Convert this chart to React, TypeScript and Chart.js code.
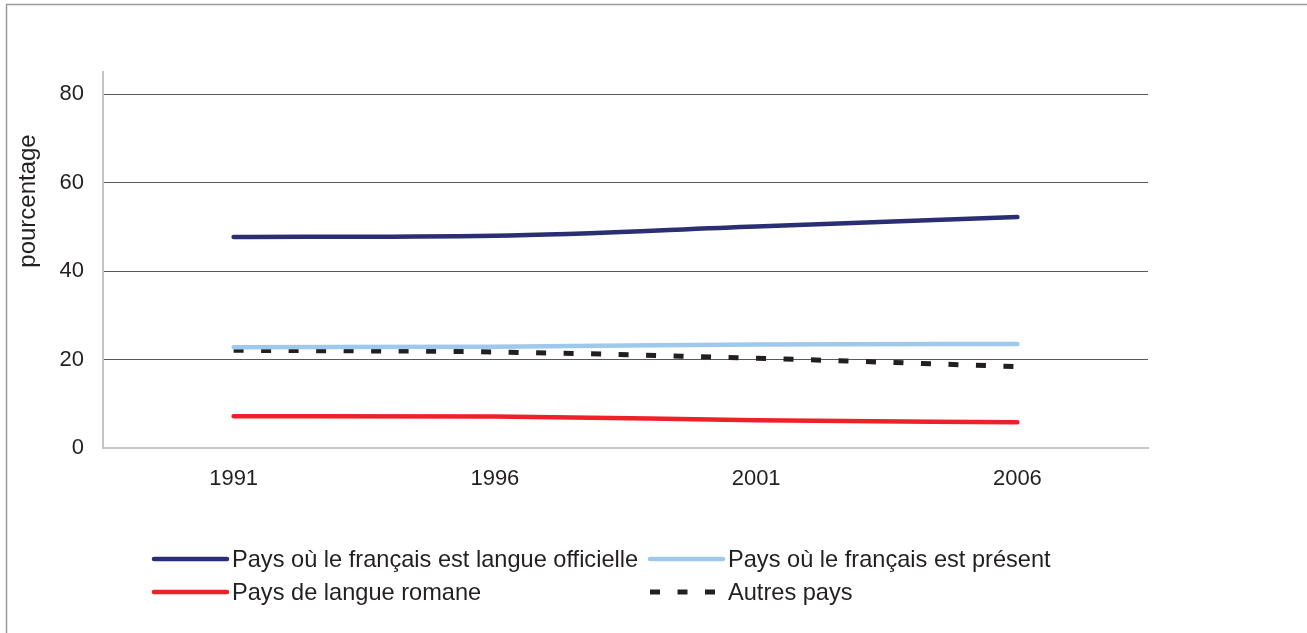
import React, { useEffect, useRef } from "react";
import { Chart, registerables } from "chart.js";

Chart.register(...registerables);

const years = ["1991", "1996", "2001", "2006"];
const officielle = [47.7, 48.0, 50.1, 52.2];
const present = [22.8, 22.9, 23.4, 23.5];
const romane = [7.2, 7.1, 6.3, 5.8];
const autres = [22.1, 21.7, 20.3, 18.4];
const yTicks = [0, 20, 40, 60, 80];
const seriesNames = [
  "Pays où le français est langue officielle",
  "Pays où le français est présent",
  "Pays de langue romane",
  "Autres pays",
];
const yTitle = "pourcentage";

const FONT = "'Liberation Sans', Arial, sans-serif";
const TEXT = "#231f20";

const framePlugin = {
  id: "frameAndLegend",
  afterDraw(chart: any) {
    const ctx = chart.ctx as CanvasRenderingContext2D;
    ctx.save();
    // outer frame (top and left)
    ctx.strokeStyle = "#9a9a9a";
    ctx.lineWidth = 1.5;
    ctx.beginPath();
    ctx.moveTo(6.5, 640);
    ctx.lineTo(6.5, 4.5);
    ctx.lineTo(1320, 4.5);
    ctx.stroke();

    // y-axis title
    ctx.fillStyle = TEXT;
    ctx.font = `24px ${FONT}`;
    ctx.textAlign = "center";
    ctx.textBaseline = "middle";
    ctx.translate(28, 201);
    ctx.rotate(-Math.PI / 2);
    ctx.fillText(yTitle, 0, 0);
    ctx.restore();

    // legend in 2 columns
    ctx.save();
    const cols = [152, 648];
    const rows = [559, 592];
    chart.data.datasets.forEach((ds: any, i: number) => {
      const x = cols[i % 2];
      const y = rows[Math.floor(i / 2)];
      ctx.strokeStyle = ds.borderColor;
      ctx.lineWidth = ds.borderWidth;
      if (ds.borderDash && ds.borderDash.length) {
        ctx.setLineDash(ds.borderDash);
        ctx.lineCap = "butt";
        ctx.beginPath();
        ctx.moveTo(x + 2, y);
        ctx.lineTo(x + 76, y);
        ctx.stroke();
      } else {
        ctx.setLineDash([]);
        ctx.lineCap = "round";
        ctx.beginPath();
        ctx.moveTo(x + 2, y);
        ctx.lineTo(x + 75, y);
        ctx.stroke();
      }
      ctx.setLineDash([]);
      ctx.fillStyle = TEXT;
      ctx.font = `23.6px ${FONT}`;
      ctx.textAlign = "left";
      ctx.textBaseline = "middle";
      ctx.fillText(ds.label, x + 80, y + 1);
    });
    ctx.restore();
  },
};

export default function App() {
  const ref = useRef<HTMLCanvasElement>(null);

  useEffect(() => {
    if (!ref.current) return;
    const chart = new Chart(ref.current, {
      type: "line",
      data: {
        labels: years,
        datasets: [
          {
            label: seriesNames[0],
            data: officielle,
            borderColor: "#2a2e72",
            borderWidth: 4.5,
            borderCapStyle: "round",
          },
          {
            label: seriesNames[1],
            data: present,
            borderColor: "#9fc9ec",
            borderWidth: 4.5,
            borderCapStyle: "round",
          },
          {
            label: seriesNames[2],
            data: romane,
            borderColor: "#ee2128",
            borderWidth: 4.5,
            borderCapStyle: "round",
          },
          {
            label: seriesNames[3],
            data: autres,
            borderColor: "#231f20",
            borderWidth: 5,
            borderDash: [10, 17.5],
            borderCapStyle: "butt",
          },
        ],
      },
      options: {
        responsive: false,
        animation: false,
        devicePixelRatio: 1,
        layout: { padding: { left: 0, top: 72, right: 159, bottom: 0 } },
        elements: {
          point: { radius: 0, hoverRadius: 0 },
          line: { tension: 0.35, fill: false, cubicInterpolationMode: "monotone" },
        },
        plugins: {
          legend: { display: false },
          tooltip: { enabled: false },
          title: { display: false },
        },
        scales: {
          x: {
            offset: true,
            grid: { display: false, drawTicks: false },
            border: { display: true, color: "#c8c8c8", width: 2 },
            ticks: {
              color: TEXT,
              font: { family: FONT, size: 22 },
              padding: 18,
              maxRotation: 0,
            },
            afterFit: (scale: any) => {
              scale.height = 185;
            },
          },
          y: {
            min: 0,
            max: 85,
            grid: {
              drawTicks: false,
              color: (c: any) => (c.tick && c.tick.value === 0 ? "rgba(0,0,0,0)" : "#58595b"),
              lineWidth: 1,
            },
            border: { display: true, color: "#c4c4c4", width: 2 },
            ticks: {
              stepSize: 20,
              includeBounds: false,
              color: TEXT,
              font: { family: FONT, size: 22 },
              padding: 19,
            },
            afterBuildTicks: (scale: any) => {
              scale.ticks = yTicks.map((v) => ({ value: v }));
            },
            afterFit: (scale: any) => {
              scale.width = 103;
            },
          },
        },
      },
      plugins: [framePlugin],
    });
    return () => chart.destroy();
  }, []);

  return (
    <div style={{ position: "absolute", left: 0, top: 0, width: 1307, height: 633, background: "#fff" }}>
      <canvas ref={ref} width={1307} height={633} style={{ display: "block" }} />
    </div>
  );
}
